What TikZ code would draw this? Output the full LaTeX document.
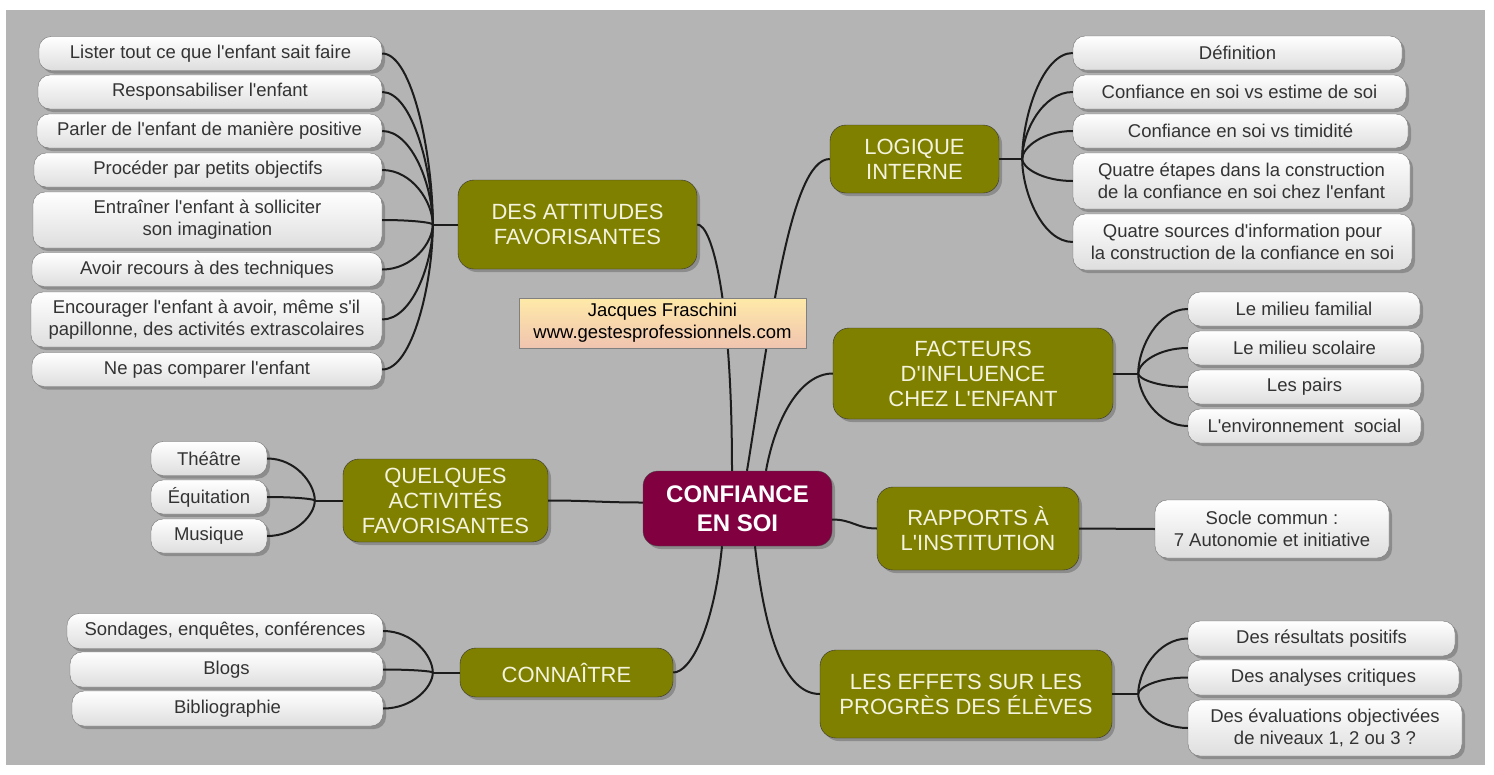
\documentclass[tikz,border=0pt]{standalone}
\usepackage{fontspec}
\setmainfont{Liberation Sans}[Ligatures=TeXOff]
\usetikzlibrary{shadows,calc,positioning}
\definecolor{bg}{RGB}{180,180,180}
\definecolor{ol}{RGB}{128,128,0}
\definecolor{mr}{RGB}{128,0,64}
\definecolor{cr}{RGB}{244,244,222}
\definecolor{ln}{RGB}{28,28,28}
\definecolor{ny}{RGB}{255,234,168}
\definecolor{np}{RGB}{240,196,176}

\begin{document}
\begin{tikzpicture}[x=1pt,y=-1pt,
    leaf/.style={rectangle,draw=black!55,rounded corners=12pt,top color=white,bottom color=black!13,text=black!80,font=\fontsize{18.5}{22}\selectfont,align=center,minimum height=34pt,inner xsep=2pt,drop shadow={shadow xshift=3pt,shadow yshift=-3pt,opacity=0.22,fill=black}},
    topic/.style={rectangle,draw=black!80,fill=ol,rounded corners=16pt,text=cr,font=\fontsize{22}{25}\selectfont,align=center,inner xsep=2pt,drop shadow={shadow xshift=3pt,shadow yshift=-3pt,opacity=0.22,fill=black}},
    core/.style={rectangle,draw=black!70,fill=mr,rounded corners=15pt,text=white,font=\bfseries\fontsize{24}{29}\selectfont,align=center,drop shadow={shadow xshift=3pt,shadow yshift=-3pt,opacity=0.22,fill=black}},
    link/.style={draw=ln,line width=2pt},
]
\useasboundingbox (0,0) rectangle (1494,774);
\fill[white] (0,0) rectangle (1494,774);
\fill[bg] (6,10) rectangle (1485,765);

\node[core,minimum width=189pt,minimum height=75pt] (soi) at (737.5,508.5) {CONFIANCE\\EN SOI};

\node[topic,minimum width=239pt,minimum height=89pt] (attit) at (577.5,224.5) {DES ATTITUDES\\FAVORISANTES};
\node[topic,minimum width=169pt,minimum height=68pt] (logiq) at (914.5,159) {LOGIQUE\\INTERNE};
\node[topic,minimum width=280pt,minimum height=91pt] (facteur) at (973,373.5) {FACTEURS\\D'INFLUENCE\\CHEZ L'ENFANT};
\node[topic,minimum width=205pt,minimum height=83pt] (activ) at (445.5,500.5) {QUELQUES\\ACTIVITÉS\\FAVORISANTES};
\node[topic,minimum width=202pt,minimum height=83pt] (rapport) at (978,528.5) {RAPPORTS À\\L'INSTITUTION};
\node[topic,minimum width=213pt,minimum height=49pt] (connai) at (566.5,672.5) {CONNAÎTRE};
\node[topic,minimum width=292pt,minimum height=88pt] (effet) at (966,694) {LES EFFETS SUR LES\\PROGRÈS DES ÉLÈVES};

\node[leaf,minimum width=343pt] (a1) at (210.5,53.5) {Lister tout ce que l'enfant sait faire};
\node[leaf,minimum width=344pt] (a2) at (210,92) {Responsabiliser l'enfant};
\node[leaf,minimum width=345pt] (a3) at (209.5,131) {Parler de l'enfant de manière positive};
\node[leaf,minimum width=348pt] (a4) at (208,170) {Procéder par petits objectifs};
\node[leaf,minimum width=349pt,minimum height=56pt] (a5) at (207.5,220) {Entraîner l'enfant à solliciter\\son imagination};
\node[leaf,minimum width=350pt] (a6) at (207,269.5) {Avoir recours à des techniques};
\node[leaf,minimum width=351pt,minimum height=55pt] (a7) at (206.5,319.5) {Encourager l'enfant à avoir, même s'il\\papillonne, des activités extrascolaires};
\node[leaf,minimum width=350pt] (a8) at (207,369.5) {Ne pas comparer l'enfant};

\node[leaf,minimum width=329pt] (b1) at (1237.5,53) {Définition};
\node[leaf,minimum width=333pt] (b2) at (1239.5,92) {Confiance en soi vs estime de soi};
\node[leaf,minimum width=335pt] (b3) at (1240.5,131) {Confiance en soi vs timidité};
\node[leaf,minimum width=337pt,minimum height=56pt] (b4) at (1241.5,181) {Quatre étapes dans la construction\\de la confiance en soi chez l'enfant};
\node[leaf,minimum width=339pt,minimum height=56pt] (b5) at (1242.5,242) {Quatre sources d'information pour\\la construction de la confiance en soi};

\node[leaf,minimum width=232pt] (c1) at (1304,309) {Le milieu familial};
\node[leaf,minimum width=233pt] (c2) at (1304.5,348) {Le milieu scolaire};
\node[leaf,minimum width=233pt] (c3) at (1304.5,387) {Les pairs};
\node[leaf,minimum width=233pt] (c4) at (1304.5,426) {L'environnement~ social};

\node[leaf,minimum width=116pt] (d1) at (209,458.5) {Théâtre};
\node[leaf,minimum width=116pt] (d2) at (209,497) {Équitation};
\node[leaf,minimum width=116pt] (d3) at (209,536) {Musique};

\node[leaf,minimum width=234pt,minimum height=58pt] (e1) at (1272,529) {Socle commun :\\7 Autonomie et initiative};

\node[leaf,minimum width=316pt,minimum height=35pt] (f1) at (225,631) {Sondages, enquêtes, conférences};
\node[leaf,minimum width=313pt,minimum height=35pt] (f2) at (226.5,669.5) {Blogs};
\node[leaf,minimum width=311pt,minimum height=35pt] (f3) at (227.5,708.5) {Bibliographie};

\node[leaf,minimum width=267pt,minimum height=35pt] (g1) at (1321.5,638.5) {Des résultats positifs};
\node[leaf,minimum width=271pt,minimum height=35pt] (g2) at (1323.5,677.5) {Des analyses critiques};
\node[leaf,minimum width=274pt,minimum height=56pt] (g3) at (1325,728) {Des évaluations objectivées\\de niveaux 1, 2 ou 3 ?};

\draw[link] ([xshift=-5.5pt]soi.north) .. controls +(0,-171) and +(15,0) .. (attit.east);
\draw[link] ([xshift=9.5pt]soi.north) .. controls +(23,-141) and +(-40,0) .. (logiq.west);
\draw[link] ([xshift=28.5pt]soi.north) .. controls +(9,-51) and +(-33,0) .. (facteur.west);
\draw[link] ([yshift=6pt]soi.west) .. controls +(-40,0) and +(40,0) .. (activ.east);
\draw[link] ([yshift=-11pt]soi.east) .. controls +(20,0) and +(-20,0) .. (rapport.west);
\draw[link] ([xshift=-15.5pt]soi.south) .. controls +(-8,80) and +(18,0) .. (connai.east);
\draw[link] ([xshift=17.5pt]soi.south) .. controls +(10,90) and +(-35,0) .. (effet.west);

\coordinate (fa) at ([xshift=-25pt]attit.west);
\coordinate (fb) at ([xshift=23pt]logiq.east);
\coordinate (fc) at ([xshift=25pt]facteur.east);
\coordinate (fd) at ([xshift=-28pt]activ.west);
\coordinate (ff) at ([xshift=-27pt]connai.west);
\coordinate (fg) at ([xshift=26pt]effet.east);
\draw[link] (attit.west) -- (fa);
\draw[link] (logiq.east) -- (fb);
\draw[link] (facteur.east) -- (fc);
\draw[link] (activ.west) -- (fd);
\draw[link] (connai.west) -- (ff);
\draw[link] (effet.east) -- (fg);
\draw[link] (rapport.east) -- (e1.west);

\foreach \i in {1,...,8} {
  \coordinate (k) at (fa |- a\i.east);
  \draw[link] (fa) .. controls ($(fa)!0.4!(k)$) and ($(a\i.east)!0.6!(k)$) .. (a\i.east);
}
\foreach \i in {1,...,5} {
  \coordinate (k) at (fb |- b\i.west);
  \draw[link] (fb) .. controls ($(fb)!0.4!(k)$) and ($(b\i.west)!0.6!(k)$) .. (b\i.west);
}
\foreach \i in {1,...,4} {
  \coordinate (k) at (fc |- c\i.west);
  \draw[link] (fc) .. controls ($(fc)!0.4!(k)$) and ($(c\i.west)!0.6!(k)$) .. (c\i.west);
}
\foreach \i in {1,...,3} {
  \coordinate (k) at (fd |- d\i.east);
  \draw[link] (fd) .. controls ($(fd)!0.4!(k)$) and ($(d\i.east)!0.6!(k)$) .. (d\i.east);
  \coordinate (k) at (ff |- f\i.east);
  \draw[link] (ff) .. controls ($(ff)!0.4!(k)$) and ($(f\i.east)!0.6!(k)$) .. (f\i.east);
  \coordinate (k) at (fg |- g\i.west);
  \draw[link] (fg) .. controls ($(fg)!0.4!(k)$) and ($(g\i.west)!0.6!(k)$) .. (g\i.west);
}

\node[draw=black!50,top color=ny,bottom color=np,font=\fontsize{18.5}{22}\selectfont,align=center,minimum width=287pt,minimum height=50pt,inner sep=1pt] (auteur) at (662.5,323) {Jacques Fraschini\\www.gestesprofessionnels.com};
\end{tikzpicture}
\end{document}
